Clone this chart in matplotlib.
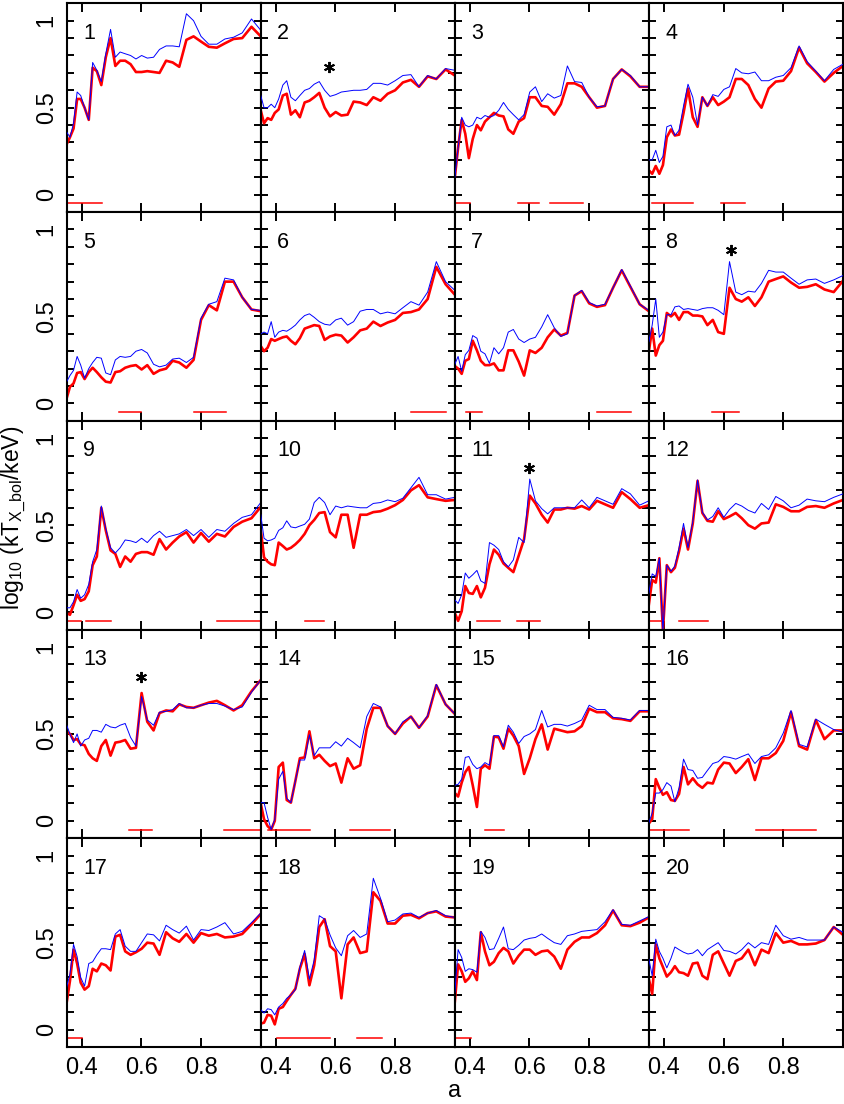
import matplotlib
matplotlib.use('Agg')
import matplotlib.pyplot as plt
from matplotlib.ticker import MultipleLocator, FixedLocator

plt.rcParams['font.family'] = ['Liberation Sans', 'DejaVu Sans']
plt.rcParams['mathtext.fontset'] = 'custom'
plt.rcParams['mathtext.rm'] = 'Liberation Sans'
plt.rcParams['mathtext.it'] = 'Liberation Sans:italic'
plt.rcParams['mathtext.bf'] = 'Liberation Sans:bold'

# scale factor grid (snapshots)
A = [0.350, 0.361, 0.373, 0.385, 0.397, 0.410, 0.424, 0.437, 0.451, 0.466,
     0.481, 0.497, 0.513, 0.529, 0.546, 0.564, 0.582, 0.601, 0.620, 0.641,
     0.661, 0.683, 0.705, 0.727, 0.751, 0.775, 0.800, 0.826, 0.853, 0.880,
     0.909, 0.938, 0.969, 1.000]

red1 = [0.29, 0.33, 0.38, 0.55, 0.55, 0.50, 0.43, 0.73, 0.71, 0.63, 0.79, 0.90, 0.74, 0.77, 0.77, 0.75, 0.705, 0.705, 0.71, 0.705, 0.70, 0.77, 0.76, 0.735, 0.89, 0.91, 0.88, 0.85, 0.845, 0.87, 0.895, 0.90, 0.965, 0.91]
blue1 = [0.36, 0.33, 0.41, 0.59, 0.57, 0.50, 0.43, 0.76, 0.715, 0.65, 0.81, 0.95, 0.79, 0.82, 0.81, 0.80, 0.78, 0.80, 0.785, 0.79, 0.835, 0.855, 0.855, 0.85, 1.04, 1.00, 0.91, 0.865, 0.865, 0.895, 0.905, 0.93, 1.01, 0.945]
red2 = [0.485, 0.41, 0.44, 0.43, 0.47, 0.49, 0.57, 0.58, 0.46, 0.485, 0.445, 0.53, 0.54, 0.56, 0.585, 0.50, 0.45, 0.475, 0.455, 0.46, 0.535, 0.53, 0.515, 0.56, 0.54, 0.58, 0.60, 0.645, 0.66, 0.62, 0.68, 0.665, 0.72, 0.685]
blue2 = [0.57, 0.50, 0.50, 0.52, 0.50, 0.55, 0.63, 0.655, 0.56, 0.54, 0.57, 0.60, 0.61, 0.635, 0.65, 0.60, 0.565, 0.575, 0.59, 0.595, 0.60, 0.60, 0.605, 0.64, 0.64, 0.63, 0.655, 0.685, 0.69, 0.62, 0.685, 0.665, 0.725, 0.715]
red3 = [0.10, 0.27, 0.43, 0.35, 0.21, 0.32, 0.40, 0.37, 0.42, 0.445, 0.47, 0.455, 0.45, 0.375, 0.35, 0.42, 0.44, 0.56, 0.56, 0.51, 0.505, 0.46, 0.52, 0.64, 0.64, 0.62, 0.56, 0.50, 0.51, 0.665, 0.72, 0.68, 0.62, 0.62]
blue3 = [0.10, 0.27, 0.445, 0.40, 0.39, 0.40, 0.445, 0.435, 0.455, 0.445, 0.455, 0.485, 0.53, 0.49, 0.46, 0.43, 0.46, 0.59, 0.62, 0.535, 0.58, 0.555, 0.57, 0.74, 0.65, 0.645, 0.56, 0.505, 0.51, 0.665, 0.72, 0.685, 0.62, 0.62]
red4 = [0.14, 0.12, 0.165, 0.12, 0.17, 0.33, 0.375, 0.34, 0.345, 0.47, 0.61, 0.445, 0.39, 0.56, 0.51, 0.56, 0.515, 0.535, 0.56, 0.665, 0.665, 0.63, 0.55, 0.50, 0.61, 0.65, 0.655, 0.71, 0.845, 0.755, 0.705, 0.65, 0.70, 0.74]
blue4 = [0.20, 0.20, 0.255, 0.185, 0.22, 0.39, 0.40, 0.34, 0.37, 0.51, 0.635, 0.56, 0.40, 0.56, 0.51, 0.575, 0.565, 0.605, 0.62, 0.725, 0.70, 0.695, 0.705, 0.655, 0.655, 0.675, 0.685, 0.73, 0.855, 0.765, 0.71, 0.655, 0.72, 0.75]
red5 = [0.03, 0.095, 0.115, 0.175, 0.18, 0.14, 0.18, 0.205, 0.18, 0.15, 0.125, 0.12, 0.18, 0.185, 0.205, 0.215, 0.22, 0.195, 0.22, 0.17, 0.19, 0.20, 0.245, 0.235, 0.205, 0.25, 0.48, 0.565, 0.535, 0.70, 0.70, 0.61, 0.54, 0.53]
blue5 = [0.125, 0.16, 0.19, 0.27, 0.22, 0.145, 0.20, 0.235, 0.265, 0.26, 0.175, 0.165, 0.25, 0.27, 0.265, 0.27, 0.30, 0.31, 0.29, 0.225, 0.21, 0.22, 0.255, 0.26, 0.235, 0.265, 0.49, 0.57, 0.585, 0.72, 0.71, 0.61, 0.54, 0.535]
red6 = [0.33, 0.30, 0.32, 0.37, 0.36, 0.37, 0.38, 0.385, 0.36, 0.34, 0.375, 0.43, 0.44, 0.45, 0.445, 0.365, 0.385, 0.395, 0.39, 0.35, 0.38, 0.42, 0.43, 0.47, 0.445, 0.465, 0.48, 0.52, 0.525, 0.54, 0.60, 0.785, 0.685, 0.625]
blue6 = [0.40, 0.41, 0.40, 0.47, 0.38, 0.41, 0.42, 0.415, 0.43, 0.45, 0.48, 0.505, 0.515, 0.495, 0.47, 0.455, 0.45, 0.48, 0.49, 0.45, 0.47, 0.53, 0.54, 0.54, 0.515, 0.525, 0.515, 0.55, 0.585, 0.565, 0.64, 0.815, 0.70, 0.65]
red7 = [0.215, 0.20, 0.17, 0.245, 0.255, 0.36, 0.305, 0.245, 0.22, 0.22, 0.23, 0.19, 0.19, 0.305, 0.305, 0.24, 0.16, 0.305, 0.29, 0.32, 0.38, 0.425, 0.39, 0.405, 0.62, 0.645, 0.575, 0.555, 0.565, 0.665, 0.765, 0.67, 0.57, 0.53]
blue7 = [0.225, 0.27, 0.185, 0.28, 0.305, 0.39, 0.375, 0.30, 0.285, 0.23, 0.32, 0.285, 0.32, 0.41, 0.425, 0.37, 0.35, 0.37, 0.38, 0.44, 0.51, 0.435, 0.385, 0.40, 0.62, 0.65, 0.58, 0.56, 0.57, 0.665, 0.77, 0.675, 0.57, 0.535]
red8 = [0.30, 0.43, 0.275, 0.335, 0.36, 0.52, 0.50, 0.52, 0.48, 0.525, 0.525, 0.505, 0.505, 0.50, 0.45, 0.48, 0.41, 0.40, 0.665, 0.60, 0.585, 0.61, 0.56, 0.61, 0.70, 0.715, 0.73, 0.695, 0.665, 0.67, 0.685, 0.655, 0.64, 0.705]
blue8 = [0.355, 0.45, 0.60, 0.38, 0.41, 0.51, 0.51, 0.555, 0.56, 0.54, 0.545, 0.54, 0.535, 0.545, 0.55, 0.55, 0.535, 0.51, 0.815, 0.64, 0.625, 0.645, 0.64, 0.69, 0.765, 0.755, 0.755, 0.72, 0.685, 0.71, 0.715, 0.69, 0.71, 0.735]
red9 = [-0.005, -0.015, 0.04, 0.10, 0.065, 0.075, 0.12, 0.27, 0.32, 0.60, 0.47, 0.355, 0.335, 0.26, 0.32, 0.29, 0.335, 0.345, 0.345, 0.33, 0.42, 0.36, 0.40, 0.435, 0.46, 0.40, 0.455, 0.405, 0.45, 0.435, 0.49, 0.52, 0.54, 0.605]
blue9 = [0.025, 0.025, 0.06, 0.13, 0.08, 0.10, 0.16, 0.29, 0.36, 0.61, 0.48, 0.37, 0.34, 0.37, 0.415, 0.41, 0.40, 0.425, 0.40, 0.44, 0.465, 0.43, 0.44, 0.45, 0.475, 0.44, 0.475, 0.43, 0.475, 0.465, 0.51, 0.545, 0.56, 0.63]
red10 = [0.475, 0.315, 0.29, 0.275, 0.27, 0.40, 0.38, 0.36, 0.37, 0.39, 0.415, 0.45, 0.50, 0.53, 0.57, 0.575, 0.46, 0.43, 0.56, 0.56, 0.37, 0.56, 0.56, 0.575, 0.58, 0.595, 0.615, 0.645, 0.70, 0.73, 0.66, 0.65, 0.64, 0.645]
blue10 = [0.56, 0.425, 0.41, 0.415, 0.425, 0.47, 0.485, 0.525, 0.49, 0.485, 0.495, 0.505, 0.535, 0.63, 0.66, 0.63, 0.56, 0.61, 0.60, 0.61, 0.605, 0.60, 0.60, 0.625, 0.63, 0.645, 0.635, 0.655, 0.715, 0.775, 0.675, 0.675, 0.65, 0.66]
red11 = [-0.005, -0.05, 0.005, 0.15, 0.11, 0.105, 0.15, 0.085, 0.14, 0.275, 0.36, 0.33, 0.28, 0.255, 0.23, 0.325, 0.42, 0.67, 0.625, 0.56, 0.515, 0.59, 0.59, 0.60, 0.595, 0.61, 0.59, 0.64, 0.62, 0.60, 0.69, 0.65, 0.60, 0.615]
blue11 = [0.07, 0.05, 0.10, 0.225, 0.195, 0.215, 0.24, 0.18, 0.165, 0.40, 0.385, 0.36, 0.29, 0.26, 0.30, 0.43, 0.40, 0.765, 0.64, 0.595, 0.565, 0.60, 0.60, 0.60, 0.60, 0.645, 0.60, 0.66, 0.64, 0.62, 0.71, 0.68, 0.615, 0.64]
red12 = [0.045, 0.185, 0.17, 0.31, -0.11, 0.27, 0.23, 0.255, 0.35, 0.48, 0.36, 0.51, 0.755, 0.57, 0.525, 0.52, 0.58, 0.535, 0.55, 0.57, 0.54, 0.50, 0.48, 0.51, 0.515, 0.62, 0.605, 0.58, 0.58, 0.605, 0.61, 0.60, 0.625, 0.645]
blue12 = [0.11, 0.22, 0.205, 0.31, -0.11, 0.27, 0.235, 0.265, 0.37, 0.51, 0.37, 0.52, 0.76, 0.575, 0.53, 0.55, 0.60, 0.545, 0.59, 0.625, 0.61, 0.585, 0.57, 0.625, 0.59, 0.665, 0.64, 0.60, 0.615, 0.65, 0.64, 0.635, 0.66, 0.68]
red13 = [0.515, 0.50, 0.465, 0.47, 0.44, 0.435, 0.385, 0.36, 0.345, 0.43, 0.465, 0.375, 0.45, 0.455, 0.465, 0.415, 0.42, 0.735, 0.57, 0.52, 0.62, 0.635, 0.63, 0.67, 0.655, 0.65, 0.665, 0.68, 0.69, 0.665, 0.635, 0.665, 0.745, 0.81]
blue13 = [0.55, 0.50, 0.45, 0.50, 0.43, 0.465, 0.475, 0.52, 0.52, 0.51, 0.555, 0.54, 0.535, 0.55, 0.56, 0.48, 0.43, 0.715, 0.58, 0.55, 0.625, 0.63, 0.64, 0.675, 0.65, 0.65, 0.665, 0.675, 0.675, 0.66, 0.64, 0.655, 0.74, 0.81]
red14 = [0.10, 0.01, -0.03, -0.05, 0.00, 0.31, 0.335, 0.12, 0.105, 0.23, 0.36, 0.365, 0.515, 0.36, 0.38, 0.345, 0.315, 0.33, 0.22, 0.36, 0.30, 0.32, 0.53, 0.65, 0.65, 0.545, 0.50, 0.56, 0.60, 0.535, 0.60, 0.78, 0.67, 0.615]
blue14 = [0.105, 0.105, 0.02, -0.05, 0.01, 0.24, 0.285, 0.13, 0.105, 0.23, 0.35, 0.35, 0.495, 0.375, 0.42, 0.42, 0.42, 0.455, 0.43, 0.475, 0.45, 0.42, 0.60, 0.675, 0.655, 0.545, 0.50, 0.57, 0.60, 0.535, 0.605, 0.785, 0.67, 0.615]
red15 = [0.16, 0.14, 0.22, 0.28, 0.31, 0.205, 0.08, 0.30, 0.32, 0.30, 0.485, 0.48, 0.415, 0.53, 0.49, 0.43, 0.27, 0.36, 0.47, 0.555, 0.41, 0.53, 0.52, 0.51, 0.515, 0.545, 0.645, 0.625, 0.625, 0.59, 0.585, 0.575, 0.63, 0.63]
blue15 = [0.205, 0.21, 0.24, 0.365, 0.37, 0.325, 0.30, 0.31, 0.335, 0.32, 0.49, 0.49, 0.425, 0.55, 0.51, 0.445, 0.485, 0.50, 0.525, 0.635, 0.54, 0.555, 0.555, 0.545, 0.56, 0.58, 0.665, 0.64, 0.64, 0.595, 0.59, 0.58, 0.635, 0.635]
red16 = [-0.015, 0.01, 0.24, 0.19, 0.15, 0.165, 0.12, 0.115, 0.155, 0.31, 0.21, 0.245, 0.21, 0.19, 0.22, 0.215, 0.295, 0.335, 0.33, 0.275, 0.31, 0.355, 0.235, 0.36, 0.36, 0.39, 0.46, 0.625, 0.43, 0.41, 0.58, 0.47, 0.52, 0.52]
blue16 = [-0.01, 0.045, 0.16, 0.16, 0.18, 0.22, 0.20, 0.11, 0.19, 0.355, 0.295, 0.29, 0.245, 0.25, 0.29, 0.33, 0.34, 0.37, 0.365, 0.355, 0.37, 0.385, 0.33, 0.37, 0.38, 0.42, 0.505, 0.635, 0.44, 0.425, 0.585, 0.555, 0.525, 0.51]
red17 = [0.155, 0.28, 0.46, 0.38, 0.27, 0.23, 0.25, 0.35, 0.335, 0.38, 0.37, 0.34, 0.535, 0.545, 0.45, 0.43, 0.445, 0.465, 0.50, 0.495, 0.43, 0.56, 0.525, 0.505, 0.55, 0.50, 0.555, 0.54, 0.55, 0.53, 0.535, 0.55, 0.605, 0.665]
blue17 = [0.245, 0.32, 0.49, 0.42, 0.30, 0.25, 0.38, 0.39, 0.43, 0.465, 0.465, 0.46, 0.55, 0.575, 0.48, 0.45, 0.45, 0.50, 0.55, 0.545, 0.51, 0.60, 0.575, 0.555, 0.595, 0.515, 0.575, 0.57, 0.59, 0.615, 0.55, 0.565, 0.615, 0.67]
red18 = [0.035, 0.04, 0.085, 0.08, 0.03, 0.12, 0.13, 0.165, 0.20, 0.235, 0.35, 0.435, 0.255, 0.37, 0.59, 0.635, 0.48, 0.45, 0.18, 0.49, 0.53, 0.44, 0.45, 0.79, 0.74, 0.61, 0.61, 0.655, 0.66, 0.64, 0.67, 0.68, 0.65, 0.645]
blue18 = [0.115, 0.095, 0.12, 0.115, 0.085, 0.13, 0.15, 0.18, 0.20, 0.23, 0.36, 0.455, 0.29, 0.40, 0.655, 0.635, 0.545, 0.47, 0.425, 0.54, 0.57, 0.53, 0.55, 0.87, 0.755, 0.62, 0.63, 0.665, 0.67, 0.645, 0.67, 0.685, 0.655, 0.645]
red19 = [0.16, 0.375, 0.335, 0.275, 0.295, 0.335, 0.285, 0.56, 0.45, 0.37, 0.39, 0.44, 0.47, 0.45, 0.38, 0.425, 0.46, 0.46, 0.43, 0.45, 0.455, 0.42, 0.35, 0.46, 0.505, 0.53, 0.53, 0.555, 0.60, 0.685, 0.60, 0.595, 0.615, 0.645]
blue19 = [0.215, 0.46, 0.415, 0.335, 0.35, 0.345, 0.33, 0.565, 0.53, 0.46, 0.465, 0.525, 0.59, 0.465, 0.46, 0.485, 0.515, 0.525, 0.53, 0.55, 0.525, 0.50, 0.49, 0.54, 0.55, 0.565, 0.57, 0.575, 0.62, 0.69, 0.605, 0.60, 0.625, 0.65]
red20 = [0.29, 0.205, 0.49, 0.41, 0.36, 0.305, 0.33, 0.365, 0.33, 0.325, 0.31, 0.38, 0.385, 0.31, 0.29, 0.43, 0.45, 0.38, 0.31, 0.395, 0.41, 0.46, 0.37, 0.46, 0.44, 0.555, 0.50, 0.51, 0.49, 0.49, 0.495, 0.515, 0.59, 0.545]
blue20 = [0.405, 0.31, 0.52, 0.45, 0.41, 0.355, 0.41, 0.475, 0.46, 0.445, 0.435, 0.44, 0.46, 0.425, 0.46, 0.48, 0.50, 0.455, 0.45, 0.435, 0.46, 0.50, 0.47, 0.50, 0.49, 0.60, 0.54, 0.52, 0.53, 0.515, 0.515, 0.515, 0.59, 0.56]

# red horizontal bars (a ranges) drawn at log10 T = -0.05
SEG_Y = -0.05
seg1 = [(0.35, 0.469)]
seg2 = []
seg3 = [(0.35, 0.402), (0.56, 0.633), (0.668, 0.78)]
seg4 = [(0.361, 0.499), (0.593, 0.672)]
seg5 = [(0.526, 0.599), (0.778, 0.883)]
seg6 = [(0.854, 0.971)]
seg7 = [(0.386, 0.442), (0.825, 0.940)]
seg8 = [(0.56, 0.653)]
seg9 = [(0.35, 0.397), (0.414, 0.499), (0.853, 1.0)]
seg10 = [(0.497, 0.563)]
seg11 = [(0.423, 0.501), (0.557, 0.635)]
seg12 = [(0.35, 0.398), (0.452, 0.547)]
seg13 = [(0.56, 0.635), (0.878, 1.0)]
seg14 = [(0.375, 0.516), (0.65, 0.782)]
seg15 = [(0.451, 0.514)]
seg16 = [(0.35, 0.484), (0.709, 0.910)]
seg17 = [(0.35, 0.40)]
seg18 = [(0.403, 0.581), (0.671, 0.757)]
seg19 = [(0.35, 0.403)]
seg20 = []

star_panel = [2, 8, 11, 13]
star_a = [0.58, 0.625, 0.60, 0.60]
star_y = [0.735, 0.88, 0.83, 0.83]

reds = [red1, red2, red3, red4, red5, red6, red7, red8, red9, red10,
        red11, red12, red13, red14, red15, red16, red17, red18, red19, red20]
blues = [blue1, blue2, blue3, blue4, blue5, blue6, blue7, blue8, blue9, blue10,
         blue11, blue12, blue13, blue14, blue15, blue16, blue17, blue18, blue19, blue20]
segs = [seg1, seg2, seg3, seg4, seg5, seg6, seg7, seg8, seg9, seg10,
        seg11, seg12, seg13, seg14, seg15, seg16, seg17, seg18, seg19, seg20]

xticks = [0.4, 0.6, 0.8]
xticklabels = ['0.4', '0.6', '0.8']
yticks = [0, 0.5, 1]
yticklabels = ['0', '0.5', '1']

fig, axes = plt.subplots(5, 4, figsize=(8.45, 11.04), dpi=100, sharex=True, sharey=True)
fig.subplots_adjust(left=0.0789, right=0.9976, top=0.997, bottom=0.0516, wspace=0, hspace=0)

for i, ax in enumerate(axes.flat):
    k = i + 1
    ax.plot(A, reds[i], color='#ff0000', lw=1.9, zorder=2)
    ax.plot(A, blues[i], color='#0000ff', lw=0.7, zorder=3)
    for lo, hi in segs[i]:
        ax.plot([lo, hi], [SEG_Y, SEG_Y], color='#ff0000', lw=1.1, zorder=2)
    for p, sa, sy in zip(star_panel, star_a, star_y):
        if p == k:
            ax.plot([sa], [sy], marker=(6, 2, 0), ms=8, mew=1.4, color='black',
                    linestyle='none', zorder=4)
    ax.text(0.085, 0.83, str(k), transform=ax.transAxes, fontsize=15.5,
            ha='left', va='baseline')
    ax.set_xlim(0.35, 1.0)
    ax.set_ylim(-0.1, 1.1)
    ax.xaxis.set_major_locator(FixedLocator(xticks))
    ax.yaxis.set_major_locator(FixedLocator(yticks))
    ax.yaxis.set_minor_locator(MultipleLocator(0.1))
    ax.tick_params(which='both', direction='in', top=True, right=True,
                   width=1.4, color='black')
    ax.tick_params(axis='x', which='major', length=6.5, labelsize=17, pad=7.5)
    ax.tick_params(axis='y', which='both', length=5, labelsize=17, pad=6.5,
                   labelrotation=90)
    for s in ax.spines.values():
        s.set_linewidth(1.5)

for ax in axes[-1, :]:
    ax.set_xticks(xticks, xticklabels)
for ax in axes[:, 0]:
    ax.set_yticks(yticks, yticklabels)
    for lab in ax.get_yticklabels():
        lab.set_rotation(90)
        lab.set_va('center')

fig.text(0.0166, 0.531, r'log$_{\mathrm{10}}$ (kT$_{\mathrm{X\_bol}}$/keV)',
         rotation=90, fontsize=16.5, ha='center', va='center')
fig.text(0.538, 0.002, 'a', fontsize=17, ha='center', va='bottom')

fig.savefig('out.png', dpi=100)
